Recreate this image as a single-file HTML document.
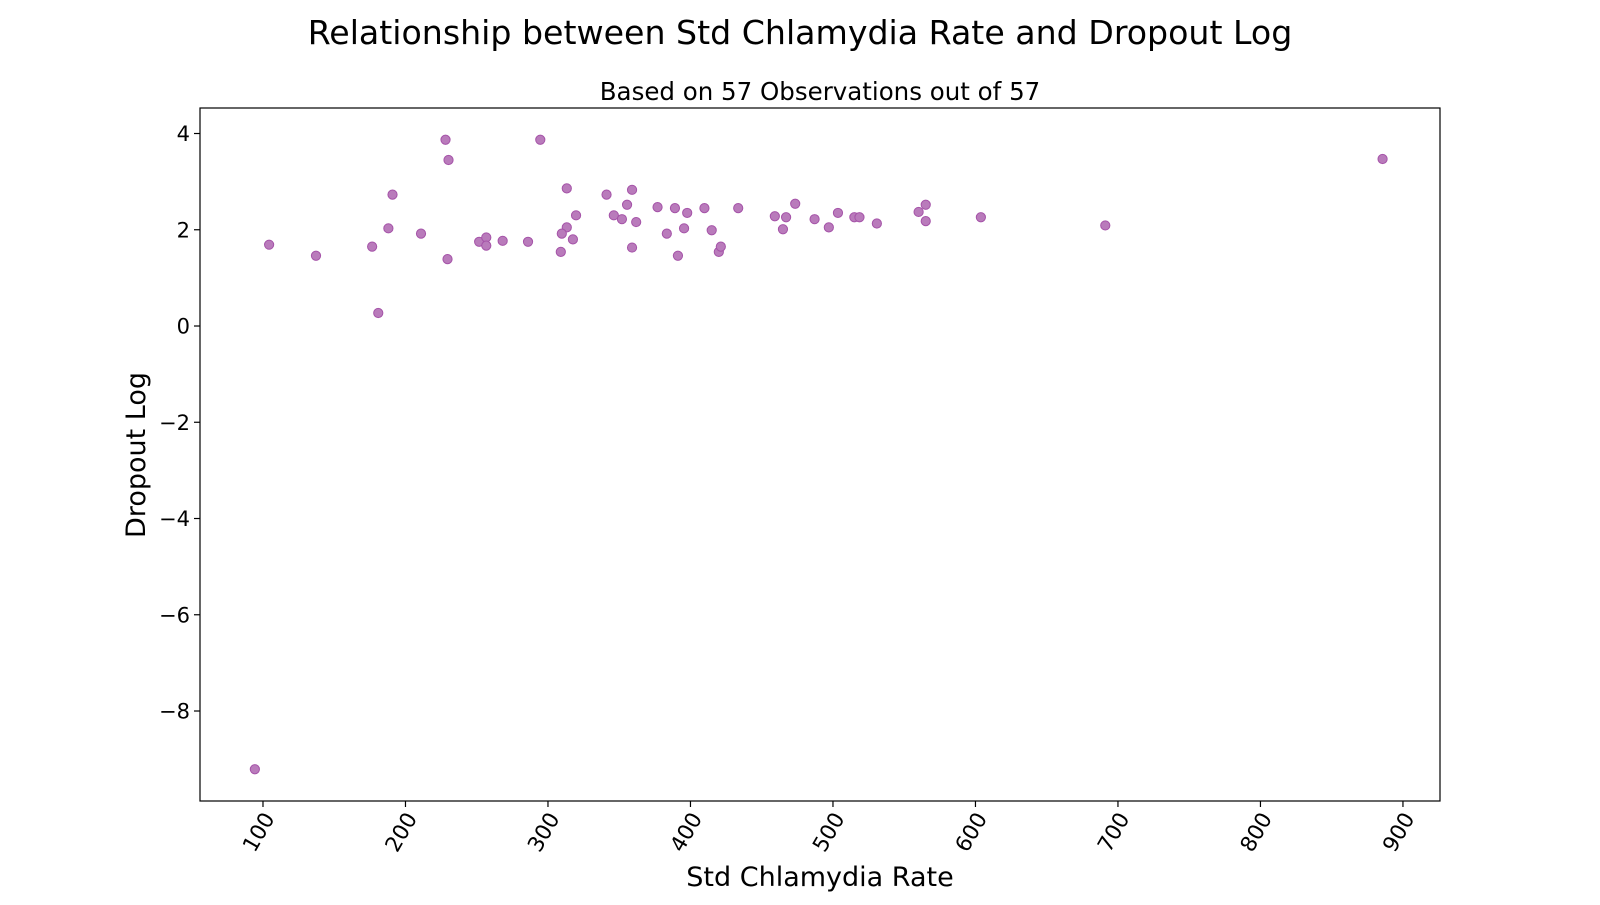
<!DOCTYPE html>
<html><head><meta charset="utf-8"><style>
body{margin:0;background:#fff;}
svg text{font-family:"DejaVu Sans","Liberation Sans",sans-serif;fill:#000;}
</style></head><body>
<svg id="chart" width="1600" height="900" xmlns="http://www.w3.org/2000/svg">
<text x="800" y="44" text-anchor="middle" font-size="33.2">Relationship between Std Chlamydia Rate and Dropout Log</text>
<text x="820" y="100" text-anchor="middle" font-size="24.5">Based on 57 Observations out of 57</text>
<g id="xticks"></g>
<g id="yticks"></g>
<g id="points"></g>
<rect x="200" y="108" width="1240" height="693" fill="none" stroke="#000" stroke-width="1.2"/>
<text x="820" y="886" text-anchor="middle" font-size="27">Std Chlamydia Rate</text>
<text transform="translate(145,455) rotate(-90)" text-anchor="middle" font-size="27">Dropout Log</text>
</svg>
<script>
const xValues=[94.3,104.3,137.2,176.6,180.9,188.0,190.9,210.9,228.1,230.2,229.5,251.7,256.7,256.7,268.2,286.0,294.6,313.2,313.2,309.7,309.0,317.5,319.7,341.1,346.2,351.9,355.5,359.0,359.0,361.9,376.9,383.4,389.1,391.2,395.5,397.7,409.8,414.9,419.9,421.3,433.5,459.2,464.9,467.1,473.5,487.1,497.1,503.5,515.0,518.6,530.8,560.1,565.1,565.1,603.8,691.1,885.7];
const yValues=[-9.21,1.69,1.46,1.65,0.27,2.03,2.73,1.92,3.87,3.45,1.39,1.75,1.84,1.67,1.77,1.75,3.87,2.86,2.05,1.92,1.54,1.80,2.30,2.73,2.30,2.22,2.52,2.83,1.63,2.16,2.47,1.92,2.45,1.46,2.03,2.35,2.45,1.99,1.54,1.65,2.45,2.28,2.01,2.26,2.54,2.22,2.05,2.35,2.26,2.26,2.13,2.37,2.52,2.18,2.26,2.09,3.47];
const xTicks=[100,200,300,400,500,600,700,800,900];
const yTicks=[4,2,0,-2,-4,-6,-8];
const yTickLabels=["4","2","0","\u22122","\u22124","\u22126","\u22128"];
const X0=200,X1=1440,Y0=108,Y1=801;
const xMin=55.8,xMax=926,yMin=-9.87,yMax=4.53;
const sx=v=>X0+(v-xMin)/(xMax-xMin)*(X1-X0);
const sy=v=>Y1-(v-yMin)/(yMax-yMin)*(Y1-Y0);
const NS="http://www.w3.org/2000/svg";
function mk(tag,attrs,parent){const e=document.createElementNS(NS,tag);for(const k in attrs)e.setAttribute(k,attrs[k]);parent.appendChild(e);return e;}
const gx=document.getElementById('xticks'),gy=document.getElementById('yticks'),gp=document.getElementById('points');
xTicks.forEach(t=>{const x=sx(t);
 const l=mk('line',{x1:x,x2:x,y1:Y1,y2:Y1+6,stroke:'#000','stroke-width':1.2},gx);
 
 
 const tx=mk('text',{transform:`translate(${x+7},${Y1+14}) rotate(-60)`,'text-anchor':'end','dominant-baseline':'middle','font-size':21.5},gx);
 tx.textContent=t;
 
 });
yTicks.forEach((t,i)=>{const y=sy(t);
 const l=mk('line',{x1:X0-6,x2:X0,y1:y,y2:y,stroke:'#000','stroke-width':1.2},gy);
 
 
 const tx=mk('text',{x:X0-10,y:y+7.5,'text-anchor':'end','font-size':21},gy);
 tx.textContent=yTickLabels[i];
 
 });
xValues.forEach((v,i)=>{
 const c=mk('circle',{cx:sx(v),cy:sy(yValues[i]),r:4.6,fill:'#b97bbb',stroke:'#a553a8','stroke-width':1},gp);
 
 });
</script>
</body></html>
